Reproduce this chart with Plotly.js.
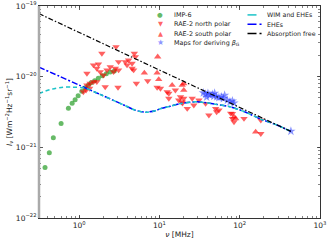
<!DOCTYPE html>
<html><head><meta charset="utf-8">
<script src="https://cdn.plot.ly/plotly-3.0.1.min.js"></script>
<style>html,body{margin:0;padding:0;background:#fff}#chart{width:333px;height:242px}</style>
</head><body><div id="chart"></div>
<script>
// ---- data (frequency in MHz, intensity in W m^-2 Hz^-1 sr^-1) ----
const imp6Freq = [0.376,0.425,0.477,0.596,0.735,0.818,0.891,0.972,1.08,1.19,1.30,1.41,1.56,1.73,1.94,2.18,2.44,2.74];
const imp6I    = [5.2e-22,8.4e-22,1.37e-21,2.17e-21,3.57e-21,4.2e-21,4.72e-21,5.37e-21,6.2e-21,6.98e-21,7.58e-21,8.2e-21,8.78e-21,9.5e-21,1.03e-20,1.1e-20,1.16e-20,1.2e-20];

const northFreq = [2.88,1.92,4.87,5.01,4.13,3.76,4.56,3.95,4.56,4.77,3.10,2.44,2.82,2.22,2.68,3.10,1.83,1.66,2.01,2.11,3.05,1.25,1.37,1.51,1.66,1.35,1.22,1.13,5.16,7.14,9.36,10.3,13.1,13.1,1.51,1.74,1.25,
                   12.5,15.8,18.3,20.1,17.4,19.2,25.6,31.0,22.2,41.3,50.1,55.1,81.1,81.1,84.9,113,183,183,26.8,37.6,19.4,51.6,77.2];
const northI    = [2.65e-20,2.13e-20,2.13e-20,1.91e-20,1.71e-20,1.62e-20,1.54e-20,1.46e-20,1.31e-20,1.24e-20,1.62e-20,1.38e-20,1.31e-20,1.24e-20,1.17e-20,1.24e-20,1.17e-20,1.31e-20,1.05e-20,7.16e-21,7.03e-21,7.59e-21,8.02e-21,8.44e-21,8.44e-21,6.8e-21,6.44e-21,6.08e-21,8.02e-21,8.71e-21,7.03e-21,6.8e-21,5.78e-21,4.91e-21,1.46e-20,1.50e-20,1.11e-20,
                   6.08e-21,6.44e-21,5.17e-21,4.91e-21,4.65e-21,4.40e-21,4.91e-21,4.65e-21,3.54e-21,2.85e-21,3.54e-21,3.35e-21,3.0e-21,2.55e-21,2.29e-21,2.55e-21,2.42e-21,1.56e-21,3.94e-21,4.17e-21,4.21e-21,3.17e-21,3.03e-21];

const southFreq = [6.49,9.36,9.52,9.80,14.4,19.2,20.1,84.9,89.1,158,20.1];
const southI    = [1.13e-20,1.13e-20,1.91e-20,9.12e-21,7.59e-21,7.59e-21,6.44e-21,2.69e-21,2.55e-21,1.65e-21,8.0e-21];

const mapsFreq = [35.2,37.6,40.2,42.5,45.6,47.7,51.6,55.1,59.0,62.5,70.2,75.6,81.1,84.9,38.7,48.7,64.9,434];
const mapsI    = [5.9e-21,5.65e-21,5.78e-21,5.47e-21,5.6e-21,5.29e-21,5.17e-21,5.07e-21,5.17e-21,4.9e-21,4.64e-21,4.4e-21,4.54e-21,4.25e-21,5.13e-21,5.83e-21,5.47e-21,1.69e-21];

const wimFreq = [0.316,0.434,0.631,0.818,1.19,1.58,2.44,3.76,5.0,6.68,8.9,10.3,13.7,18.3,29.8,50,77,119,183,281,434];
const wimI    = [5.78e-21,6.55e-21,7.1e-21,7.1e-21,6.9e-21,6.03e-21,4.84e-21,3.88e-21,3.35e-21,3.14e-21,3.3e-21,3.52e-21,3.82e-21,4.17e-21,4.4e-21,4.07e-21,3.73e-21,3.14e-21,2.5e-21,2.1e-21,1.68e-21];

const ehesFreq = [0.316,0.562,1.0,1.58,2.44,3.76,5.0,6.68,8.9,10.3,13.7,18.3,29.8,50,77,119,183,281,434];
const ehesI    = [1.36e-20,1.02e-20,7.6e-21,6.03e-21,4.84e-21,3.88e-21,3.35e-21,3.14e-21,3.3e-21,3.52e-21,3.82e-21,4.17e-21,4.4e-21,4.07e-21,3.73e-21,3.14e-21,2.5e-21,2.1e-21,1.68e-21];

const freeFreq = [0.316,1,10,100,434];
const freeI    = [7.8e-20,4.2e-20,1.24e-20,3.67e-21,1.68e-21];

const xTickVals = [1,10,100,1000];
const xTickText = ['10<sup>0</sup>','10<sup>1</sup>','10<sup>2</sup>','10<sup>3</sup>'];
const yTickVals = [1e-22,1e-21,1e-20,1e-19];
const yTickText = ['10<sup>−22</sup>','10<sup>−21</sup>','10<sup>−20</sup>','10<sup>−19</sup>'];

const legendLeft  = ['IMP-6','RAE-2 north polar','RAE-2 south polar','Maps for deriving <i>β</i><sub>G</sub>'];
const legendRight = ['WIM and EHEs','EHEs','Absorption free'];

// ---- styles ----
const FONT = 'DejaVu Sans, sans-serif';
const cGreen = 'rgba(44,160,44,0.72)';
const cRed = 'rgba(255,0,0,0.62)';
const cStar = 'rgba(40,60,255,0.55)';
const cCyan = '#1cc3c8';
const cBlue = '#0000ff';

const traces = [
  {x: imp6Freq, y: imp6I, mode:'markers', marker:{symbol:'circle', size:5, color:cGreen, line:{width:0}}},
  {x: northFreq, y: northI, mode:'markers', marker:{symbol:'triangle-down', size:6.5, color:cRed, line:{width:0}}},
  {x: southFreq, y: southI, mode:'markers', marker:{symbol:'triangle-up', size:6.5, color:cRed, line:{width:0}}},
  {x: mapsFreq, y: mapsI, mode:'markers', marker:{symbol:'star', size:7, color:cStar, line:{width:0}}},
  {x: ehesFreq, y: ehesI, mode:'lines', line:{color:cBlue, width:1.5, dash:'6px,2px,2px,2px', shape:'spline', smoothing:0.8}},
  {x: wimFreq, y: wimI, mode:'lines', line:{color:cCyan, width:1.5, dash:'4px,3px', shape:'spline', smoothing:0.8}},
  {x: freeFreq, y: freeI, mode:'lines', line:{color:'#000', width:1.2, dash:'5px,2px,1.5px,2px'}}
];
traces.forEach(t => t.showlegend = false);

// custom compact legend (text + symbols)
const rowY = [0.958, 0.914, 0.870, 0.826];
const annotations = [];
const symGlyph = ['●','▼','▲','★'];
const symColor = [cGreen, cRed, cRed, cStar];
const symSize = [6.5, 6.5, 6.5, 8];
legendLeft.forEach((t,i) => {
  annotations.push({xref:'paper', yref:'paper', x:0.473, y:rowY[i], xanchor:'left', yanchor:'middle', text:t, showarrow:false, font:{family:FONT, size:6.4, color:'#222'}});
  annotations.push({xref:'paper', yref:'paper', x:0.432, y:rowY[i], xanchor:'center', yanchor:'middle', text:symGlyph[i], showarrow:false, font:{family:FONT, size:symSize[i], color:symColor[i]}});
});
const lineCol = [cCyan, cBlue, '#000'];
const lineDash = ['dash','dashdot','dashdot'];
const shapes = [];
legendRight.forEach((t,i) => {
  annotations.push({xref:'paper', yref:'paper', x:0.804, y:rowY[i], xanchor:'left', yanchor:'middle', text:t, showarrow:false, font:{family:FONT, size:6.3, color:'#222'}});
  shapes.push({type:'line', xref:'paper', yref:'paper', x0:0.742, x1:0.792, y0:rowY[i], y1:rowY[i], line:{color:lineCol[i], width:1.5, dash:lineDash[i]}});
});
shapes.push({type:'line', xref:'paper', yref:'paper', x0:0, x1:0, y0:0, y1:1, line:{color:'#aaaaaa', width:2.5}});

const axisCommon = {
  type:'log', showgrid:false, zeroline:false, showline:true, linecolor:'#333', linewidth:1, mirror:'ticks',
  ticks:'inside', ticklen:3.5, tickcolor:'#333', tickwidth:0.8,
  minor:{ticks:'inside', ticklen:2, tickcolor:'#333', tickwidth:0.6, dtick:'D1', showgrid:false},
  tickfont:{family:FONT, size:7.5, color:'#222'}
};

const layout = {
  width:333, height:242,
  margin:{l:39, r:13, t:6, b:24},
  paper_bgcolor:'#fff', plot_bgcolor:'#fff',
  showlegend:false,
  xaxis: Object.assign({}, axisCommon, {
    range:[-0.5, 3.0], tickvals:xTickVals, ticktext:xTickText,
    title:{text:'<i>ν</i> [MHz]', font:{family:FONT, size:7.5, color:'#222'}, standoff:2}
  }),
  yaxis: Object.assign({}, axisCommon, {
    range:[-22, -19], tickvals:yTickVals, ticktext:yTickText,
    title:{text:'<i>I</i><sub><i>ν</i></sub> [Wm<sup>−2</sup>Hz<sup>−1</sup>sr<sup>−1</sup>]', font:{family:FONT, size:7.5, color:'#222'}, standoff:2}
  }),
  annotations: annotations,
  shapes: shapes
};

Plotly.newPlot('chart', traces, layout, {displayModeBar:false, staticPlot:true});
</script>
</body></html>
